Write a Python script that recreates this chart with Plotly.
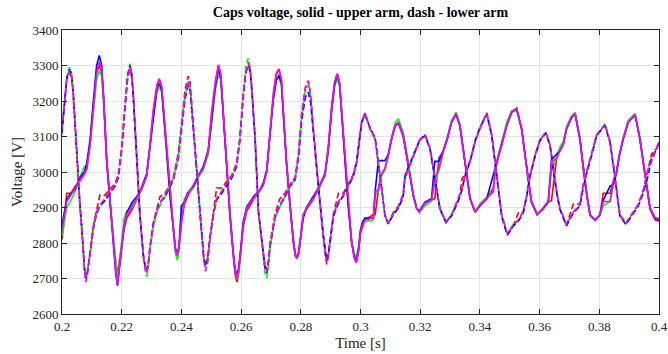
import plotly.graph_objects as go

# ---------------- time bases ----------------
t_upper = [
    0.2000, 0.2010, 0.2016, 0.2030, 0.2044, 0.2060, 0.2075, 0.2083,
    0.2094, 0.2105, 0.2116, 0.2125, 0.2133, 0.2140, 0.2150, 0.2161, 0.2172, 0.2180, 0.2186, 0.2192,
    0.2200, 0.2208, 0.2217, 0.2235, 0.2250, 0.2267, 0.2284,
    0.2295, 0.2306, 0.2318, 0.2326, 0.2334, 0.2345, 0.2362, 0.2373, 0.2380, 0.2386, 0.2392,
    0.2400, 0.2410, 0.2420, 0.2440, 0.2457, 0.2473, 0.2490,
    0.2501, 0.2513, 0.2524, 0.2532, 0.2540, 0.2552, 0.2563, 0.2574, 0.2580, 0.2586, 0.2592,
    0.2600, 0.2607, 0.2619, 0.2641, 0.2663, 0.2674, 0.2686,
    0.2697, 0.2708, 0.2718, 0.2727, 0.2735, 0.2741, 0.2752, 0.2764, 0.2775, 0.2782, 0.2787, 0.2793,
    0.2800, 0.2808, 0.2819, 0.2842, 0.2859, 0.2881,
    0.2892, 0.2903, 0.2913, 0.2922, 0.2930, 0.2937, 0.2948, 0.2959, 0.2970, 0.2979, 0.2986, 0.2993,
    0.3000, 0.3007, 0.3015, 0.3043, 0.3049, 0.3060, 0.3068, 0.3082, 0.3093, 0.3104, 0.3116, 0.3127,
    0.3143, 0.3155, 0.3166, 0.3177, 0.3188, 0.3197,
    0.3216, 0.3238, 0.3249, 0.3263, 0.3277, 0.3291, 0.3305, 0.3320, 0.3333, 0.3344, 0.3356, 0.3367, 0.3384,
    0.3400, 0.3423, 0.3445, 0.3451, 0.3462, 0.3473, 0.3490, 0.3506, 0.3523, 0.3540, 0.3551, 0.3562, 0.3573, 0.3592,
    0.3612, 0.3629, 0.3640, 0.3657, 0.3668, 0.3679, 0.3690, 0.3707, 0.3719, 0.3735, 0.3746, 0.3758, 0.3769, 0.3786,
    0.3802, 0.3813, 0.3836, 0.3847, 0.3858, 0.3867, 0.3880, 0.3897, 0.3920, 0.3936, 0.3947, 0.3959, 0.3970, 0.3987, 0.4000,
]

t_lower = [
    0.2000, 0.2008, 0.2016, 0.2025, 0.2032, 0.2038, 0.2049, 0.2060, 0.2066, 0.2071, 0.2076, 0.2080, 0.2086,
    0.2094, 0.2105, 0.2116, 0.2127, 0.2144, 0.2161, 0.2178, 0.2189,
    0.2200, 0.2211, 0.2220, 0.2228, 0.2234, 0.2239, 0.2250, 0.2261, 0.2272, 0.2278, 0.2284, 0.2290,
    0.2295, 0.2306, 0.2317, 0.2328, 0.2345, 0.2356, 0.2373,
    0.2390, 0.2401, 0.2412, 0.2423, 0.2429, 0.2434, 0.2446, 0.2457, 0.2468, 0.2475, 0.2481, 0.2488,
    0.2496, 0.2507, 0.2518, 0.2535, 0.2552, 0.2568, 0.2585,
    0.2596, 0.2607, 0.2616, 0.2624, 0.2630, 0.2635, 0.2647, 0.2658, 0.2663, 0.2674, 0.2680, 0.2686, 0.2692,
    0.2697, 0.2714, 0.2730, 0.2747, 0.2764, 0.2781,
    0.2792, 0.2803, 0.2815, 0.2825, 0.2833, 0.2842, 0.2853, 0.2864, 0.2875, 0.2881, 0.2887, 0.2893,
    0.2898, 0.2909, 0.2926, 0.2942, 0.2959, 0.2976, 0.2987,
    0.2998, 0.3004, 0.3015, 0.3032, 0.3049, 0.3060, 0.3071, 0.3082, 0.3093,
    0.3110, 0.3127, 0.3143, 0.3149, 0.3166, 0.3183, 0.3199, 0.3216, 0.3233, 0.3244, 0.3255, 0.3266, 0.3286,
    0.3305, 0.3322, 0.3333, 0.3340, 0.3350, 0.3367, 0.3384, 0.3400, 0.3423, 0.3440, 0.3451, 0.3462, 0.3473, 0.3492,
    0.3512, 0.3529, 0.3545, 0.3557, 0.3568, 0.3585, 0.3601, 0.3621, 0.3635, 0.3646, 0.3657, 0.3668, 0.3690,
    0.3713, 0.3735, 0.3746, 0.3758, 0.3774, 0.3791, 0.3819, 0.3836, 0.3847, 0.3858, 0.3869, 0.3889,
    0.3908, 0.3930, 0.3947, 0.3964, 0.3975, 0.3992, 0.4000,
]

# ---------------- upper arm (solid) ----------------
upper_red = [
    2810, 2880, 2940, 2940, 2960, 2975, 2995, 3008,
    3080, 3185, 3280, 3300, 3280, 3195, 3025, 2912, 2810, 2740, 2715, 2750,
    2800, 2840, 2870, 2895, 2920, 2958, 2995,
    3080, 3175, 3245, 3262, 3238, 3120, 2932, 2840, 2775, 2755, 2785,
    2855, 2910, 2930, 2960, 2990, 3012, 3062,
    3165, 3250, 3300, 3272, 3168, 3008, 2876, 2762, 2710, 2690, 2715,
    2785, 2845, 2890, 2922, 2948, 2965, 3005,
    3125, 3220, 3278, 3290, 3258, 3168, 3028, 2905, 2803, 2763, 2757, 2772,
    2818, 2880, 2895, 2922, 2950, 2995,
    3070, 3182, 3252, 3277, 3250, 3168, 3026, 2905, 2803, 2758, 2745, 2775,
    2828, 2848, 2865, 2880, 2880, 2950, 2985, 3010, 3045, 3092, 3130, 3138, 3102, 3045, 2990, 2932, 2896, 2888,
    2912, 2920, 2925, 3040, 3057, 3094, 3140, 3164, 3130, 3064, 2990, 2925, 2886,
    2905, 2924, 2955, 3000, 3045, 3076, 3133, 3170, 3180, 3122, 3045, 2980, 2915, 2880,
    2896, 2915, 2920, 3038, 3062, 3078, 3122, 3155, 3165, 3094, 3010, 2935, 2878, 2864,
    2878, 2940, 2940, 2975, 3003, 3048, 3094, 3141, 3162, 3094, 3028, 2953, 2896, 2865, 2862,
]
upper_green = [
    2820, 2870, 2900, 2920, 2945, 2985, 3015, 3020,
    3070, 3165, 3260, 3285, 3270, 3190, 3035, 2925, 2815, 2735, 2700, 2740,
    2810, 2870, 2890, 2900, 2922, 2950, 2985,
    3070, 3160, 3225, 3240, 3225, 3120, 2940, 2845, 2780, 2752, 2780,
    2880, 2925, 2935, 2955, 2985, 3005, 3050,
    3145, 3230, 3272, 3260, 3170, 3015, 2885, 2770, 2722, 2700, 2720,
    2785, 2850, 2905, 2925, 2945, 2960, 3000,
    3115, 3205, 3260, 3265, 3245, 3165, 3030, 2910, 2808, 2762, 2755, 2768,
    2812, 2875, 2900, 2925, 2950, 2988,
    3060, 3170, 3240, 3262, 3240, 3165, 3030, 2910, 2810, 2770, 2760, 2790,
    2840, 2855, 2860, 2865, 2930, 2955, 2985, 3005, 3050, 3098, 3138, 3150, 3112, 3055, 2995, 2938, 2898, 2885,
    2905, 2918, 2970, 3005, 3055, 3098, 3145, 3168, 3135, 3070, 2995, 2928, 2885,
    2910, 2930, 2945, 2995, 3050, 3085, 3140, 3172, 3178, 3118, 3040, 2975, 2915, 2878,
    2900, 2920, 3000, 3045, 3070, 3085, 3128, 3158, 3168, 3098, 3012, 2938, 2880, 2862,
    2878, 2905, 2917, 2960, 2995, 3045, 3098, 3145, 3165, 3098, 3030, 2958, 2900, 2872, 2870,
]
upper_blue = [
    2850, 2900, 2925, 2940, 2950, 2985, 3000, 3025,
    3090, 3200, 3300, 3328, 3300, 3205, 3030, 2915, 2800, 2715, 2680, 2725,
    2790, 2845, 2885, 2915, 2930, 2954, 2995,
    3070, 3160, 3235, 3250, 3230, 3115, 2930, 2840, 2785, 2768, 2790,
    2905, 2915, 2940, 2960, 2990, 3015, 3060,
    3150, 3235, 3290, 3265, 3165, 3005, 2875, 2770, 2725, 2710, 2730,
    2795, 2860, 2900, 2930, 2950, 2968, 3005,
    3110, 3205, 3260, 3272, 3250, 3165, 3025, 2905, 2805, 2765, 2760, 2775,
    2820, 2870, 2900, 2930, 2955, 2995,
    3060, 3170, 3245, 3275, 3248, 3165, 3025, 2905, 2805, 2762, 2750, 2780,
    2835, 2860, 2870, 2870, 2945, 3032, 3032, 3032, 3050, 3094, 3130, 3138, 3102, 3045, 2990, 2935, 2898, 2890,
    2915, 2925, 3030, 3030, 3060, 3094, 3140, 3163, 3130, 3064, 2990, 2925, 2888,
    2905, 2925, 2990, 3010, 3040, 3076, 3130, 3167, 3178, 3120, 3045, 2980, 2915, 2881,
    2898, 2915, 3035, 3050, 3060, 3076, 3120, 3153, 3163, 3092, 3008, 2935, 2879, 2865,
    2879, 2920, 2960, 2965, 3000, 3045, 3092, 3140, 3160, 3092, 3027, 2952, 2898, 2868, 2865,
]
upper_magenta = [
    2835, 2890, 2917, 2935, 2954, 2977, 2995, 3010,
    3076, 3179, 3282, 3311, 3290, 3200, 3030, 2917, 2805, 2720, 2685, 2730,
    2800, 2850, 2880, 2905, 2926, 2954, 2991,
    3076, 3170, 3240, 3262, 3240, 3122, 2935, 2842, 2785, 2765, 2790,
    2860, 2915, 2935, 2963, 2991, 3010, 3057,
    3160, 3244, 3302, 3275, 3170, 3010, 2879, 2767, 2720, 2703, 2725,
    2790, 2851, 2898, 2926, 2950, 2963, 3001,
    3122, 3216, 3275, 3290, 3260, 3170, 3029, 2907, 2805, 2765, 2757, 2770,
    2815, 2879, 2898, 2926, 2954, 2991,
    3066, 3179, 3250, 3277, 3250, 3170, 3029, 2907, 2805, 2760, 2745, 2775,
    2830, 2851, 2865, 2870, 2945, 2950, 2991, 3010, 3047, 3094, 3132, 3140, 3104, 3047, 2991, 2935, 2898, 2888,
    2912, 2921, 2982, 3010, 3057, 3094, 3141, 3165, 3132, 3066, 2991, 2926, 2888,
    2907, 2926, 2945, 3010, 3047, 3076, 3132, 3169, 3179, 3122, 3047, 2982, 2917, 2881,
    2898, 2917, 3029, 3038, 3060, 3076, 3122, 3155, 3165, 3094, 3010, 2935, 2879, 2865,
    2879, 2917, 2917, 2973, 3001, 3047, 3094, 3141, 3162, 3094, 3029, 2954, 2898, 2870, 2868,
]

# ---------------- lower arm (dashed) ----------------
lower_red = [
    3125, 3205, 3260, 3280, 3265, 3210, 3042, 2905, 2840, 2768, 2722, 2700, 2722,
    2770, 2848, 2892, 2935, 2935, 2950, 2968, 2995,
    3070, 3185, 3265, 3290, 3265, 3210, 3042, 2878, 2770, 2738, 2725, 2750,
    2790, 2855, 2892, 2930, 2940, 2958, 2985,
    3055, 3150, 3230, 3270, 3255, 3200, 3060, 2952, 2820, 2762, 2740, 2760,
    2812, 2880, 2955, 2955, 2972, 2990, 3025,
    3096, 3218, 3288, 3310, 3292, 3246, 3095, 2886, 2848, 2770, 2738, 2725, 2752,
    2800, 2882, 2925, 2940, 2966, 2985,
    3050, 3165, 3238, 3255, 3215, 3118, 3008, 2915, 2820, 2770, 2740, 2765,
    2800, 2880, 2940, 2940, 2966, 2994, 3032,
    3096, 3142, 3166, 3122, 3092, 3028, 2952, 2878, 2855,
    2886, 2904, 2938, 2990, 3022, 3058, 3092, 3105, 3066, 3010, 2952, 2896, 2858,
    2878, 2915, 2938, 2980, 2995, 3032, 3086, 3122, 3167, 3104, 3028, 2952, 2876, 2824,
    2850, 2885, 2885, 2935, 2990, 3047, 3090, 3111, 3076, 3010, 2945, 2896, 2850,
    2910, 2910, 2965, 3003, 3048, 3104, 3134, 3085, 3020, 2944, 2878, 2855,
    2878, 2908, 2948, 3010, 3050, 3066, 3085,
]
lower_green = [
    3105, 3190, 3268, 3295, 3280, 3225, 3055, 2915, 2850, 2775, 2725, 2705, 2725,
    2770, 2835, 2880, 2900, 2920, 2942, 2960, 2988,
    3070, 3195, 3280, 3305, 3280, 3222, 3050, 2882, 2765, 2722, 2705, 2735,
    2780, 2845, 2882, 2905, 2930, 2955, 2980,
    3045, 3138, 3212, 3255, 3245, 3192, 3062, 2958, 2826, 2758, 2730, 2752,
    2815, 2875, 2920, 2945, 2965, 2985, 3018,
    3098, 3225, 3298, 3320, 3300, 3250, 3098, 2890, 2845, 2760, 2715, 2700, 2735,
    2785, 2870, 2902, 2930, 2960, 2980,
    3045, 3155, 3228, 3245, 3212, 3118, 3012, 2920, 2828, 2780, 2752, 2775,
    2810, 2876, 2914, 2933, 2962, 2990, 3028,
    3090, 3138, 3160, 3118, 3090, 3028, 2955, 2880, 2858,
    2882, 2900, 2932, 2980, 3018, 3055, 3088, 3102, 3068, 3012, 2956, 2900, 2862,
    2880, 2910, 2932, 2952, 2990, 3028, 3084, 3120, 3160, 3102, 3030, 2956, 2882, 2828,
    2853, 2866, 2890, 2936, 2992, 3048, 3092, 3113, 3078, 3012, 2948, 2900, 2853,
    2886, 2905, 2960, 3000, 3048, 3105, 3136, 3087, 3022, 2948, 2882, 2858,
    2878, 2905, 2943, 3005, 3030, 3068, 3086,
]
lower_blue = [
    3110, 3195, 3265, 3290, 3275, 3220, 3050, 2910, 2845, 2770, 2720, 2700, 2722,
    2772, 2845, 2885, 2905, 2920, 2940, 2960, 2985,
    3060, 3180, 3270, 3300, 3272, 3212, 3045, 2880, 2770, 2735, 2720, 2748,
    2790, 2855, 2890, 2915, 2930, 2950, 2978,
    3040, 3130, 3205, 3245, 3230, 3180, 3055, 2955, 2825, 2758, 2735, 2755,
    2820, 2880, 2922, 2940, 2962, 2982, 3015,
    3090, 3210, 3280, 3300, 3285, 3240, 3092, 2890, 2852, 2770, 2730, 2715, 2745,
    2790, 2875, 2905, 2930, 2960, 2978,
    3040, 3145, 3210, 3225, 3195, 3110, 3005, 2915, 2823, 2778, 2750, 2772,
    2808, 2875, 2912, 2932, 2960, 2988, 3025,
    3090, 3140, 3163, 3125, 3096, 3030, 2952, 2876, 2854,
    2880, 2898, 2930, 2990, 3025, 3060, 3092, 3103, 3064, 3008, 2952, 2896, 2858,
    2876, 2908, 2930, 2950, 2988, 3030, 3088, 3126, 3163, 3100, 3025, 2950, 2875, 2822,
    2848, 2862, 2885, 2932, 2988, 3045, 3088, 3110, 3074, 3008, 2942, 2895, 2848,
    2885, 2905, 2955, 2998, 3045, 3102, 3132, 3083, 3018, 2942, 2876, 2852,
    2876, 2903, 2940, 2990, 3040, 3064, 3082,
]
lower_magenta = [
    3120, 3200, 3263, 3285, 3270, 3216, 3047, 2907, 2842, 2767, 2715, 2690, 2715,
    2767, 2842, 2888, 2907, 2926, 2945, 2963, 2991,
    3066, 3188, 3270, 3296, 3270, 3216, 3047, 2879, 2767, 2730, 2715, 2745,
    2786, 2851, 2888, 2912, 2935, 2954, 2982,
    3047, 3141, 3216, 3255, 3240, 3188, 3057, 2954, 2823, 2750, 2720, 2745,
    2814, 2879, 2926, 2945, 2968, 2987, 3020,
    3094, 3216, 3285, 3305, 3290, 3244, 3094, 2888, 2850, 2767, 2735, 2720, 2750,
    2795, 2879, 2907, 2935, 2963, 2982,
    3047, 3160, 3235, 3258, 3220, 3122, 3010, 2917, 2823, 2775, 2748, 2770,
    2805, 2879, 2917, 2935, 2963, 2991, 3029,
    3094, 3141, 3165, 3122, 3094, 3029, 2954, 2879, 2856,
    2884, 2902, 2935, 2982, 3020, 3057, 3090, 3104, 3066, 3010, 2954, 2898, 2860,
    2879, 2912, 2935, 2954, 2991, 3029, 3085, 3122, 3165, 3104, 3029, 2954, 2879, 2825,
    2851, 2865, 2888, 2935, 2991, 3047, 3090, 3111, 3076, 3010, 2945, 2898, 2851,
    2888, 2907, 2963, 3001, 3047, 3104, 3134, 3085, 3020, 2945, 2879, 2856,
    2879, 2907, 2945, 3010, 3029, 3066, 3085,
]

x_tick_vals = [0.2, 0.22, 0.24, 0.26, 0.28, 0.3, 0.32, 0.34, 0.36, 0.38, 0.4]
x_tick_text = ["0.2", "0.22", "0.24", "0.26", "0.28", "0.3", "0.32", "0.34", "0.36", "0.38", "0.4"]
y_tick_vals = [2600, 2700, 2800, 2900, 3000, 3100, 3200, 3300, 3400]

colors = {"red": "#FF0000", "green": "#00FF00", "blue": "#0000FF", "magenta": "#FF00FF"}

fig = go.Figure()

upper = [("red", upper_red), ("green", upper_green), ("blue", upper_blue), ("magenta", upper_magenta)]
lower = [("red", lower_red), ("green", lower_green), ("blue", lower_blue), ("magenta", lower_magenta)]

for name, vals in upper:
    n = min(len(t_upper), len(vals))
    fig.add_trace(go.Scatter(x=t_upper[:n], y=vals[:n], mode="lines",
                             line=dict(color=colors[name], width=1.6), hoverinfo="skip"))
for name, vals in lower:
    n = min(len(t_lower), len(vals))
    fig.add_trace(go.Scatter(x=t_lower[:n], y=vals[:n], mode="lines",
                             line=dict(color=colors[name], width=1.6, dash="6px,3px"), hoverinfo="skip"))

axis_col = "#262626"
serif = "Liberation Serif"
tick_font = dict(family=serif, size=13, color=axis_col)

fig.update_layout(
    width=668, height=354,
    margin=dict(l=62, r=9, t=30, b=40, autoexpand=False),
    plot_bgcolor="white", paper_bgcolor="white",
    showlegend=False,
    title=dict(text="<b>Caps voltage, solid - upper arm, dash - lower arm</b>",
               x=0.5, xref="paper", xanchor="center",
               y=1 - 12 / 354, yref="container", yanchor="middle",
               font=dict(family=serif, size=14, color="black")),
)
fig.update_xaxes(
    range=[0.2, 0.4], tickvals=x_tick_vals, ticktext=x_tick_text,
    ticks="inside", ticklen=5, tickcolor=axis_col, tickwidth=1,
    showline=True, linecolor=axis_col, linewidth=1, mirror="allticks",
    showgrid=True, gridcolor="#e3e3e3", gridwidth=1, zeroline=False,
    tickfont=tick_font, automargin=False,
    title=dict(text="Time [s]", font=dict(family=serif, size=15, color=axis_col), standoff=4),
)
fig.update_yaxes(
    range=[2600, 3400], tickvals=y_tick_vals,
    ticks="inside", ticklen=5, tickcolor=axis_col, tickwidth=1,
    showline=True, linecolor=axis_col, linewidth=1, mirror="allticks",
    showgrid=True, gridcolor="#e3e3e3", gridwidth=1, zeroline=False,
    tickfont=tick_font, automargin=False,
    title=dict(text="Voltage [V]", font=dict(family=serif, size=15, color=axis_col), standoff=6),
)

fig.write_html("out.html")
